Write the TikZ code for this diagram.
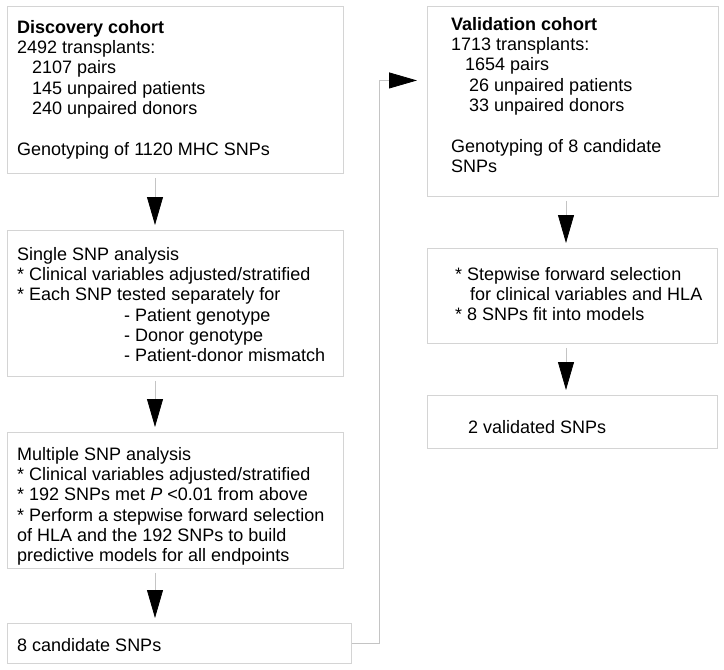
\documentclass[tikz,border=0pt]{standalone}
\usepackage{fontspec}
\setmainfont{Liberation Sans}
\usetikzlibrary{arrows.meta}
\definecolor{boxgray}{HTML}{D4D4D4}
\definecolor{linegray}{HTML}{C4C4C4}

\begin{document}
\begin{tikzpicture}[x=1pt, y=-1pt,
    box/.style={draw=boxgray, line width=0.9pt, anchor=north west, inner sep=0pt},
    txt/.style={anchor=north west, align=left, inner sep=0pt},
    flow/.style={draw=linegray, line width=0.8pt, shorten <=4pt, shorten >=5pt,
                 -{Triangle[length=28pt, width=16pt, black]}}]
            \useasboundingbox (0,0) rectangle (724,670);
            \fontsize{18}{20.3}\selectfont
            \coordinate (lx) at (155,0);
            \coordinate (rx) at (566,0);

            \node[box, minimum width=336pt, minimum height=167pt] (disc) at (7,6) {};
            \node[box, minimum width=336pt, minimum height=146pt] (single) at (7,230) {};
            \node[box, minimum width=336pt, minimum height=136pt] (multi) at (7,432) {};
            \node[box, minimum width=344pt, minimum height=40pt] (cand) at (7,623) {};

            \node[box, minimum width=291pt, minimum height=190pt] (valid) at (427,6) {};
            \node[box, minimum width=290pt, minimum height=95pt] (stepw) at (427,248) {};
            \node[box, minimum width=290pt, minimum height=53pt] (final) at (427,395) {};

            \node[txt] (disctxt) at (17,20) {\textbf{Discovery cohort}\\
                2492 transplants:\\
                \hspace*{15pt}2107 pairs\\
                \hspace*{15pt}145 unpaired patients\\
                \hspace*{15pt}240 unpaired donors\\[20.3pt]
                Genotyping of 1120 MHC SNPs};
            \node[txt] (singletxt) at (17,247) {Single SNP analysis\\
                * Clinical variables adjusted/stratified\\
                * Each SNP tested separately for\\
                \hspace*{107pt}- Patient genotype\\
                \hspace*{107pt}- Donor genotype\\
                \hspace*{107pt}- Patient-donor mismatch};
            \node[txt] (multitxt) at (17,447) {Multiple SNP analysis\\
                * Clinical variables adjusted/stratified\\
                * 192 SNPs met \textit{P} <0.01 from above\\
                * Perform a stepwise forward selection\\
                of HLA and the 192 SNPs to build\\
                predictive models for all endpoints};
            \node[txt] (candtxt) at (17,638) {8 candidate SNPs};

            \node[txt] (validtxt) at (451,17) {\textbf{Validation cohort}\\
                1713 transplants:\\
                \hspace*{14pt}1654 pairs\\
                \hspace*{18pt}26 unpaired patients\\
                \hspace*{18pt}33 unpaired donors\\[20.3pt]
                Genotyping of 8 candidate\\
                SNPs};
            \node[txt] (stepwtxt) at (455,267) {* Stepwise forward selection\\
                \hspace*{15pt}for clinical variables and HLA\\
                * 8 SNPs fit into models};
            \node[txt] (finaltxt) at (468,420) {2 validated SNPs};

            \draw[flow] (disc.south -| lx) -- (single.north -| lx);
            \draw[flow] (single.south -| lx) -- (multi.north -| lx);
            \draw[flow] (multi.south -| lx) -- (cand.north -| lx);
            \draw[flow, shorten <=0pt, shorten >=10pt] (cand.east) -- ++(27,0) |- ([yshift=21pt]valid.west);
            \draw[flow] (valid.south -| rx) -- (stepw.north -| rx);
            \draw[flow] (stepw.south -| rx) -- (final.north -| rx);
        \end{tikzpicture}
\end{document}
